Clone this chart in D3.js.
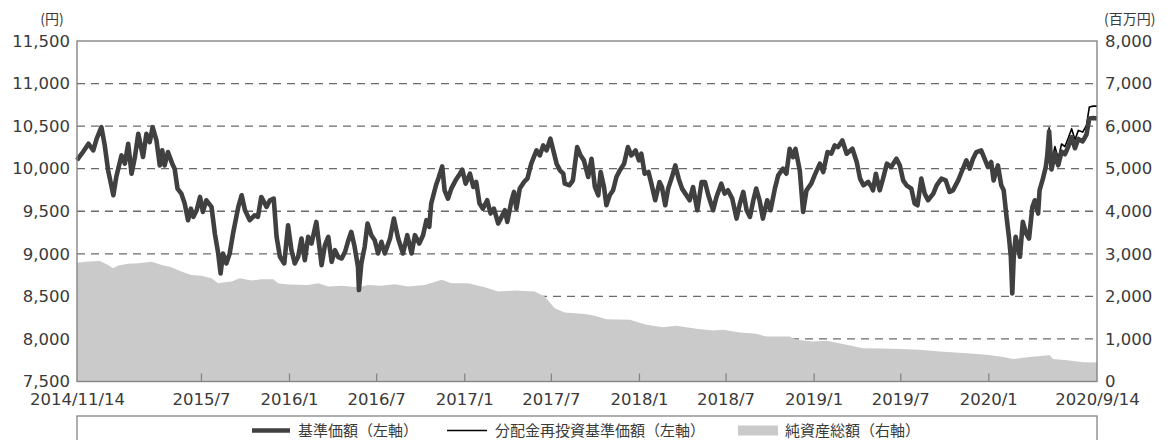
<!DOCTYPE html>
<html><head><meta charset="utf-8">
<script src="https://cdn.jsdelivr.net/npm/d3@7"></script>
<style>body{margin:0;background:#fff}svg{display:block}</style>
</head><body>
<svg id="c" width="1168" height="440"></svg>
<script>
// ---------- data ----------
const priceDates = [
 "2014-11-14","2014-11-24","2014-12-08","2014-12-18","2014-12-25",
 "2015-01-04","2015-01-11","2015-01-18","2015-01-29","2015-02-04","2015-02-15","2015-02-22","2015-03-01","2015-03-08","2015-03-15","2015-03-22","2015-04-01","2015-04-08","2015-04-15","2015-04-21","2015-04-29","2015-05-06","2015-05-11","2015-05-16","2015-05-23","2015-06-01","2015-06-06","2015-06-12","2015-06-20","2015-06-27","2015-07-04","2015-07-10","2015-07-15","2015-07-22","2015-07-29","2015-08-04","2015-08-11","2015-08-22","2015-08-29","2015-09-05","2015-09-10","2015-09-15","2015-09-22","2015-09-29","2015-10-06","2015-10-17","2015-10-24","2015-10-31","2015-11-10","2015-11-20","2015-11-27","2015-12-04","2015-12-15","2015-12-22","2015-12-30",
 "2016-01-05","2016-01-12","2016-01-21","2016-01-29","2016-02-05","2016-02-12","2016-02-19","2016-02-26","2016-03-04","2016-03-11","2016-03-18","2016-03-28","2016-04-08","2016-04-15","2016-04-22","2016-04-29","2016-05-06","2016-05-13","2016-05-20","2016-05-27","2016-06-02","2016-06-09","2016-06-16","2016-06-23","2016-06-25","2016-06-30","2016-07-07","2016-07-13","2016-07-21","2016-07-28","2016-08-04","2016-08-11","2016-08-18","2016-08-29","2016-09-06","2016-09-15","2016-09-25","2016-10-04","2016-10-13","2016-10-20","2016-10-29","2016-11-06","2016-11-13","2016-11-19","2016-11-23","2016-12-03","2016-12-09","2016-12-16","2016-12-21","2016-12-28",
 "2017-01-04","2017-01-13","2017-01-22","2017-01-27","2017-02-03","2017-02-12","2017-02-19","2017-02-25","2017-03-04","2017-03-11","2017-03-20","2017-03-27","2017-04-03","2017-04-12","2017-04-19","2017-04-26","2017-05-01","2017-05-10","2017-05-15","2017-05-20","2017-05-27","2017-06-05","2017-06-12","2017-06-20","2017-07-01","2017-07-08","2017-07-15","2017-07-22","2017-07-30","2017-08-06","2017-08-12","2017-08-19","2017-08-26","2017-08-29","2017-09-08","2017-09-15","2017-09-24","2017-10-01","2017-10-08","2017-10-17","2017-10-24","2017-10-31","2017-11-07","2017-11-12","2017-11-19","2017-11-24","2017-12-01","2017-12-08","2017-12-15","2017-12-22","2017-12-31",
 "2018-01-08","2018-01-15","2018-01-24","2018-01-31","2018-02-05","2018-02-12","2018-02-20","2018-02-26","2018-03-06","2018-03-15","2018-03-20","2018-03-27","2018-04-02","2018-04-10","2018-04-17","2018-04-24","2018-05-01","2018-05-08","2018-05-17","2018-05-24","2018-06-02","2018-06-11","2018-06-18","2018-06-25","2018-07-05","2018-07-12","2018-07-22","2018-07-29","2018-08-05","2018-08-14","2018-08-23","2018-08-30","2018-09-06","2018-09-13","2018-09-20","2018-09-27","2018-10-03","2018-10-10","2018-10-17","2018-10-26","2018-11-02","2018-11-11","2018-11-18","2018-11-28","2018-12-05","2018-12-12","2018-12-19","2018-12-24",
 "2019-01-02","2019-01-09","2019-01-16","2019-01-26","2019-02-02","2019-02-13","2019-02-20","2019-03-01","2019-03-09","2019-03-16","2019-03-23","2019-04-01","2019-04-10","2019-04-22","2019-05-01","2019-05-08","2019-05-15","2019-05-25","2019-06-01","2019-06-04","2019-06-10","2019-06-18","2019-06-25","2019-07-03","2019-07-12","2019-07-23","2019-07-30","2019-08-06","2019-08-13","2019-08-23","2019-08-30","2019-09-05","2019-09-13","2019-09-20","2019-09-27","2019-10-08","2019-10-15","2019-10-25","2019-11-03","2019-11-11","2019-11-18","2019-11-29","2019-12-06","2019-12-16","2019-12-23","2019-12-30",
 "2020-01-06","2020-01-16","2020-01-23","2020-01-30","2020-02-06","2020-02-11","2020-02-20","2020-02-27","2020-03-03","2020-03-09","2020-03-14","2020-03-18","2020-03-21","2020-03-24","2020-03-28","2020-04-02","2020-04-06","2020-04-12","2020-04-19","2020-04-25","2020-05-02","2020-05-07","2020-05-14","2020-05-17","2020-05-24","2020-05-30","2020-06-02","2020-06-06","2020-06-11","2020-06-18","2020-06-25","2020-07-02","2020-07-09","2020-07-16","2020-07-23","2020-07-30","2020-08-06","2020-08-15","2020-08-23","2020-08-29","2020-09-06","2020-09-14"
];
// 基準価額 (yen)
const basePrice = [
 10100,10176,10293,10215,10350,
 10488,10273,9980,9688,9902,10156,10059,10293,9941,10137,10410,10137,10410,10312,10488,10332,10039,10215,10039,10195,10059,10000,9766,9707,9590,9395,9531,9434,9512,9668,9492,9629,9551,9238,9004,8770,9004,8887,9004,9238,9551,9688,9512,9395,9453,9434,9668,9551,9629,9648,
 9199,8965,8887,9336,9043,8887,8965,9180,8926,9199,9121,9375,8867,9102,9199,8906,9043,8960,8945,9024,9141,9258,9082,8848,8574,8887,9082,9356,9219,9160,9004,9141,9004,9180,9414,9180,9004,9219,9004,9219,9121,9219,9395,9317,9590,9805,9902,10027,9746,9648,
 9766,9863,9941,9988,9824,9941,9785,9844,9590,9531,9629,9473,9531,9356,9434,9512,9375,9629,9727,9531,9766,9844,9883,10059,10215,10156,10273,10215,10352,10195,10059,9980,9941,9824,9805,9863,10254,10156,10098,9902,10117,9785,9688,9961,9785,9570,9688,9746,9902,9980,10059,
 10254,10156,10215,10098,10176,9941,9961,9824,9629,9844,9785,9570,9766,9902,10039,9883,9766,9707,9629,9785,9512,9844,9844,9688,9512,9668,9824,9707,9746,9648,9414,9590,9727,9512,9434,9629,9766,9629,9414,9629,9512,9766,9922,10000,9941,10234,10137,10234,
 9980,9492,9746,9824,9922,10059,9961,10195,10176,10273,10254,10332,10176,10234,10078,9883,9805,9844,9785,9746,9941,9746,9883,10059,10020,10117,10039,9863,9805,9766,9590,9570,9883,9707,9629,9707,9805,9883,9863,9727,9746,9863,9961,10098,10000,10117,
 10195,10215,10117,10020,10078,9863,10039,9805,9746,9434,9199,8965,8535,8965,9199,9082,8965,9375,9238,9180,9551,9629,9473,9746,9883,10020,10150,10440,9990,10180,10040,10200,10170,10260,10370,10240,10350,10320,10400,10590,10595,10590
];
// 分配金再投資基準価額 (yen)
const reinvestPrice = [
 10100,10176,10293,10215,10350,
 10488,10273,9980,9688,9902,10156,10059,10293,9941,10137,10410,10137,10410,10312,10488,10332,10039,10215,10039,10195,10059,10000,9766,9707,9590,9395,9531,9434,9512,9668,9492,9629,9551,9238,9004,8770,9004,8887,9004,9238,9551,9688,9512,9395,9453,9434,9668,9551,9629,9648,
 9199,8965,8887,9336,9043,8887,8965,9180,8926,9199,9121,9375,8867,9102,9199,8906,9043,8960,8945,9024,9141,9258,9082,8848,8574,8887,9082,9356,9219,9160,9004,9141,9004,9180,9414,9180,9004,9219,9004,9219,9121,9219,9395,9317,9590,9805,9902,10027,9746,9648,
 9766,9863,9941,9988,9824,9941,9785,9844,9590,9531,9629,9473,9531,9356,9434,9512,9375,9629,9727,9531,9766,9844,9883,10059,10215,10156,10273,10215,10352,10195,10059,9980,9941,9824,9805,9863,10254,10156,10098,9902,10117,9785,9688,9961,9785,9570,9688,9746,9902,9980,10059,
 10254,10156,10215,10098,10176,9941,9961,9824,9629,9844,9785,9570,9766,9902,10039,9883,9766,9707,9629,9785,9512,9844,9844,9688,9512,9668,9824,9707,9746,9648,9414,9590,9727,9512,9434,9629,9766,9629,9414,9629,9512,9766,9922,10000,9941,10234,10137,10234,
 9980,9492,9746,9824,9922,10059,9961,10195,10176,10273,10254,10332,10176,10234,10078,9883,9805,9844,9785,9746,9941,9746,9883,10059,10020,10117,10039,9863,9805,9766,9590,9570,9883,9707,9629,9707,9805,9883,9863,9727,9746,9863,9961,10098,10000,10117,
 10195,10215,10117,10020,10078,9863,10039,9805,9746,9434,9199,8965,8535,8965,9199,9082,8965,9375,9238,9180,9551,9629,9473,9746,9900,10050,10215,10480,10060,10260,10120,10290,10260,10360,10470,10340,10450,10430,10510,10725,10735,10735
];
// 純資産総額 (百万円)
const assetDates = [
 "2014-11-14","2014-12-07","2015-01-01","2015-01-18","2015-01-28","2015-02-08","2015-03-01","2015-03-22","2015-04-19","2015-05-10","2015-05-30","2015-06-20","2015-07-11","2015-08-01","2015-08-22","2015-09-05","2015-09-15","2015-10-03","2015-10-20","2015-11-14","2015-12-04","2015-12-29",
 "2016-01-08","2016-01-29","2016-03-11","2016-04-01","2016-04-22","2016-05-20","2016-06-23","2016-07-14","2016-08-11","2016-09-08","2016-10-06","2016-11-10","2016-12-15",
 "2017-01-04","2017-02-08","2017-03-15","2017-04-12","2017-05-17","2017-06-27","2017-07-18","2017-08-08","2017-08-29","2017-09-19","2017-10-10","2017-10-31","2017-11-24",
 "2018-01-12","2018-02-16","2018-03-22","2018-04-19","2018-05-31","2018-07-05","2018-07-26","2018-08-30","2018-10-03","2018-10-24","2018-12-12","2018-12-26",
 "2019-01-30","2019-02-27","2019-04-10","2019-05-14","2019-06-18","2019-07-30","2019-09-10","2019-10-21","2019-12-09",
 "2020-01-27","2020-03-02","2020-03-23","2020-04-26","2020-05-31","2020-06-07","2020-06-14","2020-07-19","2020-08-16","2020-09-14"
];
const netAssets = [
 2790,2818,2834,2740,2662,2724,2764,2779,2811,2740,2686,2583,2505,2482,2428,2310,2325,2348,2428,2372,2404,2404,
 2310,2278,2270,2310,2231,2247,2216,2270,2247,2286,2231,2270,2388,
 2310,2310,2216,2113,2137,2113,1996,1723,1620,1606,1583,1543,1465,
 1449,1331,1277,1308,1237,1198,1214,1151,1120,1057,1057,979,
 939,955,862,784,775,761,744,704,667,
 627,573,526,573,610,620,526,493,455,446
];
const leftTicks = [7500,8000,8500,9000,9500,10000,10500,11000,11500];
const rightTicks = [0,1000,2000,3000,4000,5000,6000,7000,8000];
const xTickDates = ["2014-11-14","2015-07-31","2016-01-31","2016-07-31","2017-01-31","2017-07-31","2018-01-31","2018-07-31","2019-01-31","2019-07-31","2020-01-31","2020-09-14"];
const xTickLabels = ["2014/11/14","2015/7","2016/1","2016/7","2017/1","2017/7","2018/1","2018/7","2019/1","2019/7","2020/1","2020/9/14"];
const legendLabels = ["基準価額（左軸）","分配金再投資基準価額（左軸）","純資産総額（右軸）"];
const leftUnit = "(円)", rightUnit = "(百万円)";

// ---------- chart ----------
const parse = d3.timeParse("%Y-%m-%d");
const L = 77, R = 1097, T = 41, B = 381.5;
const svg = d3.select("#c");
const numFont = "'DejaVu Sans','Noto Sans CJK JP',sans-serif";
const cjkFont = "'Noto Sans CJK JP','DejaVu Sans',sans-serif";
const textCol = "#3a3a3a", frameCol = "#858585";

const x = d3.scaleTime().domain([parse(xTickDates[0]), parse(xTickDates[xTickDates.length-1])]).range([L, R]);
const yL = d3.scaleLinear().domain([7500, 11500]).range([B, T]);
const yR = d3.scaleLinear().domain([0, 8000]).range([B, T]);

// grid
svg.append("g").selectAll("line").data(leftTicks.slice(1, -1)).join("line")
  .attr("x1", L).attr("x2", R).attr("y1", d => yL(d)).attr("y2", d => yL(d))
  .attr("stroke", "#6a6a6a").attr("stroke-width", 1.3).attr("stroke-dasharray", "8,6");

// area
const n1 = Math.min(assetDates.length, netAssets.length);
const aData = d3.range(n1).map(i => ({d: parse(assetDates[i]), v: netAssets[i]}));
svg.append("path").datum(aData)
  .attr("d", d3.area().x(d => x(d.d)).y0(yR(0)).y1(d => yR(d.v)))
  .attr("fill", "#cacaca");

// lines
const n2 = Math.min(priceDates.length, basePrice.length, reinvestPrice.length);
const pData = d3.range(n2).map(i => ({d: parse(priceDates[i]), b: basePrice[i], r: reinvestPrice[i]}));
svg.append("path").datum(pData)
  .attr("d", d3.line().x(d => x(d.d)).y(d => yL(d.r)))
  .attr("fill", "none").attr("stroke", "#000").attr("stroke-width", 1.6).attr("stroke-linejoin", "round");
svg.append("path").datum(pData)
  .attr("d", d3.line().x(d => x(d.d)).y(d => yL(d.b)))
  .attr("fill", "none").attr("stroke", "#404040").attr("stroke-width", 4.6).attr("stroke-linejoin", "round");

// frame
svg.append("rect").attr("x", L).attr("y", T).attr("width", R - L).attr("height", B - T)
  .attr("fill", "none").attr("stroke", frameCol).attr("stroke-width", 1.4);

// axes
const gl = svg.append("g").attr("transform", `translate(${L},0)`)
  .call(d3.axisLeft(yL).tickValues(leftTicks).tickSize(0).tickPadding(7).tickFormat(d3.format(",")));
const gr = svg.append("g").attr("transform", `translate(${R},0)`)
  .call(d3.axisRight(yR).tickValues(rightTicks).tickSize(0).tickPadding(8).tickFormat(d3.format(",")));
const gb = svg.append("g").attr("transform", `translate(0,${B})`)
  .call(d3.axisBottom(x).tickValues(xTickDates.map(parse)).tickSizeInner(-8).tickSizeOuter(0).tickPadding(12)
    .tickFormat((d, i) => xTickLabels[i]));
[gl, gr, gb].forEach(g => {
  g.select(".domain").remove();
  g.selectAll("text").attr("fill", textCol).style("font-family", numFont).style("font-size", "16.5px");
});
gb.selectAll(".tick line").attr("stroke", frameCol).attr("stroke-width", 1.3)
  .filter((d, i) => i === 0 || i === xTickDates.length - 1).remove();

// units
svg.append("text").attr("x", 52).attr("y", 24).attr("text-anchor", "middle").text(leftUnit)
  .attr("fill", textCol).style("font-family", cjkFont).style("font-size", "14px");
svg.append("text").attr("x", 1104).attr("y", 24).attr("text-anchor", "start").text(rightUnit)
  .attr("fill", textCol).style("font-family", cjkFont).style("font-size", "14px");

// legend
svg.append("rect").attr("x", L).attr("y", 416).attr("width", R - L).attr("height", 40)
  .attr("fill", "none").attr("stroke", frameCol).attr("stroke-width", 1.3);
const ly = 430.5;
svg.append("line").attr("x1", 252).attr("x2", 290).attr("y1", ly).attr("y2", ly).attr("stroke", "#404040").attr("stroke-width", 4.6);
svg.append("line").attr("x1", 447).attr("x2", 487).attr("y1", ly).attr("y2", ly).attr("stroke", "#000").attr("stroke-width", 1.6);
svg.append("rect").attr("x", 738).attr("y", ly - 5).attr("width", 40).attr("height", 10).attr("fill", "#cacaca");
[[298, 0], [495, 1], [785, 2]].forEach(([lx, i]) => {
  svg.append("text").attr("x", lx).attr("y", ly).attr("dy", "0.36em").text(legendLabels[i])
    .attr("fill", textCol).style("font-family", cjkFont).style("font-size", "15px");
});
</script>
</body></html>
